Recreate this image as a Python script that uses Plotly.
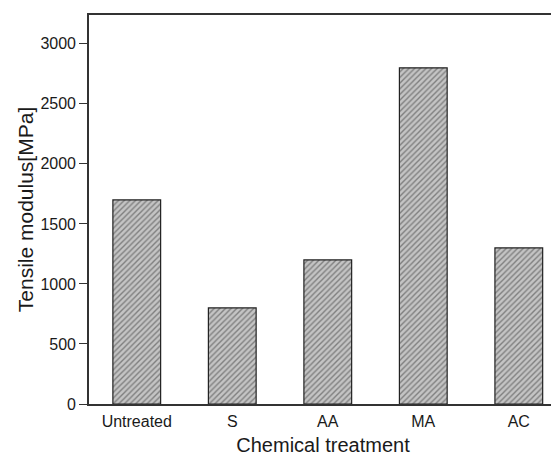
import plotly.graph_objects as go

treatments = ["Untreated", "S", "AA", "MA", "AC"]
modulus = [1700, 800, 1200, 2800, 1300]
y_ticks = [0, 500, 1000, 1500, 2000, 2500, 3000]

fig = go.Figure(
    data=[go.Bar(
        x=treatments, y=modulus, width=0.5,
        marker=dict(
            color="#bdbdbd",
            line=dict(color="#222222", width=1.2),
            pattern=dict(shape="/", fgcolor="#3a3a3a", bgcolor="#c4c4c4",
                         size=4, solidity=0.35, fillmode="overlay"),
        ),
    )]
)

# page body has an 8px margin, so the figure is a bit smaller than the window
fig.update_layout(
    width=551, height=449,
    margin=dict(l=81, r=0, t=7, b=53),
    paper_bgcolor="white", plot_bgcolor="white",
    font=dict(family="Liberation Sans, Arial", color="#1a1a1a"),
    showlegend=False,
)
fig.update_xaxes(
    range=[-0.5, 4.4],
    showline=True, linecolor="#333333", linewidth=1.6, mirror=True,
    ticks="", showgrid=False, ticklabelstandoff=2,
    tickfont=dict(size=16),
    title=dict(text="Chemical treatment", font=dict(size=20), standoff=9),
)
fig.update_yaxes(
    range=[0, 3240], tickvals=y_ticks,
    showline=True, linecolor="#333333", linewidth=1.6, mirror=True,
    ticks="outside", ticklen=8, tickwidth=1.4, tickcolor="#333333",
    showgrid=False, zeroline=False,
    tickfont=dict(size=16),
    title=dict(text="Tensile modulus[MPa]", font=dict(size=21), standoff=1),
)

fig.write_html("out.html")
